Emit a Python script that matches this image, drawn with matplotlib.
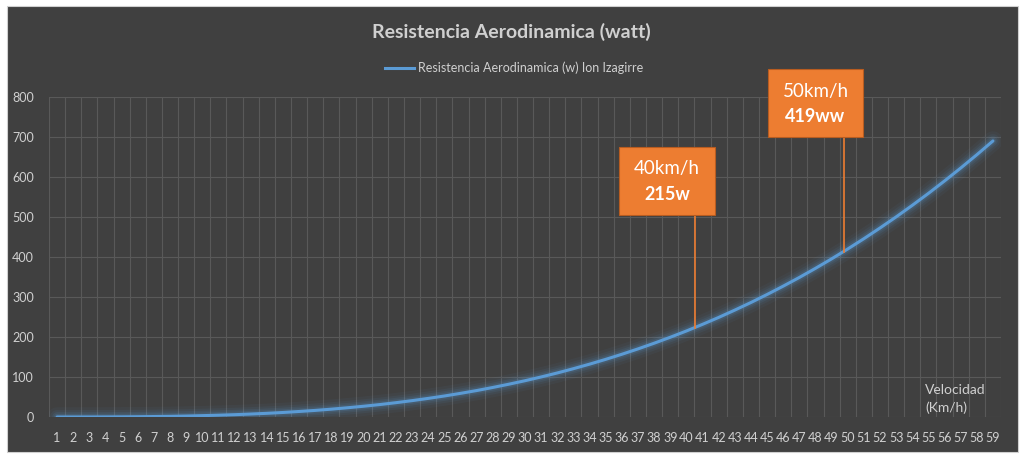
import matplotlib
matplotlib.use("Agg")
import matplotlib.pyplot as plt
from matplotlib.patches import Rectangle

plt.rcParams['font.family'] = ['Lato', 'DejaVu Sans']

# ---- data ----
velocidad = list(range(1, 60))
potencia = [0.0, 0.03, 0.09, 0.2, 0.4, 0.7, 1.2, 1.7, 2.4, 3.4,
            4.5, 5.8, 7.4, 9.2, 11.3, 13.8, 16.5, 19.6, 23.1, 26.9,
            31.1, 35.8, 40.9, 46.5, 52.5, 59.1, 66.1, 73.8, 82.0, 90.7,
            100.1, 110.1, 120.8, 132.1, 144.1, 156.8, 170.2, 184.4, 199.3, 215.0,
            231.6, 248.9, 267.2, 286.2, 306.2, 327.1, 348.8, 371.6, 395.3, 420.0,
            445.7, 472.5, 500.2, 529.1, 559.0, 590.1, 622.3, 655.6, 690.1]
tick_labels = [str(v) for v in velocidad]
series_name = "Resistencia Aerodinamica (w) Ion Izagirre"
title = "Resistencia Aerodinamica (watt)"
callout_speed = ["40km/h", "50km/h"]
callout_power = ["215w", "419ww"]

BG = "#404040"
GRID = "#595959"
TXT = "#D0D0D0"
BLUE = "#5B9BD5"
ORANGE = "#ED7D31"

W, H = 1024, 459
fig = plt.figure(figsize=(W / 100, H / 100), dpi=100)
fig.patch.set_facecolor("white")

# chart area
fig.patches.append(Rectangle((7 / W, 1 - 452 / H), (1018 - 7) / W, (452 - 6) / H,
                             transform=fig.transFigure, facecolor=BG,
                             edgecolor="#D0D0D0", linewidth=0.8, zorder=-10))

ax = fig.add_axes([49 / W, 42 / H, (1001 - 49) / W, (417 - 97) / H])
ax.set_facecolor(BG)
for s in ax.spines.values():
    s.set_visible(False)

ax.set_xlim(0.5, 59.5)
ax.set_ylim(0, 800)

# gridlines
for xv in [v - 0.5 for v in velocidad] + [velocidad[-1] + 0.5]:
    ax.axvline(xv, color=GRID, lw=0.8, zorder=0)
for yv in range(0, 801, 100):
    ax.axhline(yv, color=GRID, lw=0.8, zorder=0)

ax.set_xticks(velocidad)
ax.set_xticklabels(tick_labels)
ax.set_yticks(range(0, 801, 100))
ax.tick_params(axis='x', length=0, pad=11, labelsize=9, colors=TXT)
ax.tick_params(axis='y', length=0, pad=11, labelsize=9, colors=TXT)

# glow + line
for lw, a in [(14, 0.05), (10, 0.07), (7, 0.1), (4.5, 0.15)]:
    ax.plot(velocidad, potencia, color=BLUE, lw=lw, alpha=a,
            solid_capstyle='round', zorder=2)
line, = ax.plot(velocidad, potencia, color=BLUE, lw=2.2, zorder=3,
                solid_capstyle='round')

# title and legend
fig.text(511 / W, 1 - 32 / H, title, ha='center', va='center',
         fontsize=14, fontweight='bold', color=TXT)
fig.lines.append(plt.Line2D([385 / W, 414 / W], [1 - 68 / H, 1 - 68 / H],
                            transform=fig.transFigure, color=BLUE, lw=2.2))
fig.text(418 / W, 1 - 68 / H, series_name, ha='left', va='center',
         fontsize=9, color=TXT)

# axis title
ax.text(54.8, 45, "Velocidad\n(Km/h)", ha='left', va='center',
        fontsize=10, color=TXT, linespacing=1.45)

# callouts
boxes = [
    dict(x0=35.83, x1=41.77, y0=505, y1=675, lx=40.53, ly=222, ty1=622, ty2=555),
    dict(x0=45.06, x1=50.95, y0=700, y1=870, lx=49.77, ly=412, ty1=815, ty2=750),
]
for b, s1, s2 in zip(boxes, callout_speed, callout_power):
    ax.plot([b['lx'], b['lx']], [b['ly'], b['y0']], color=ORANGE, lw=1.2,
            zorder=4, clip_on=False)
    ax.add_patch(Rectangle((b['x0'], b['y0']), b['x1'] - b['x0'], b['y1'] - b['y0'],
                           facecolor=ORANGE, edgecolor="#B85C20", lw=0.8,
                           zorder=5, clip_on=False))
    cx = (b['x0'] + b['x1']) / 2
    ax.text(cx, b['ty1'], s1, ha='center', va='center', fontsize=13.5,
            color='white', zorder=6, clip_on=False)
    ax.text(cx, b['ty2'], s2, ha='center', va='center', fontsize=13,
            fontweight='bold', color='white', zorder=6, clip_on=False)

fig.savefig("out.png", dpi=100, facecolor=fig.get_facecolor())
